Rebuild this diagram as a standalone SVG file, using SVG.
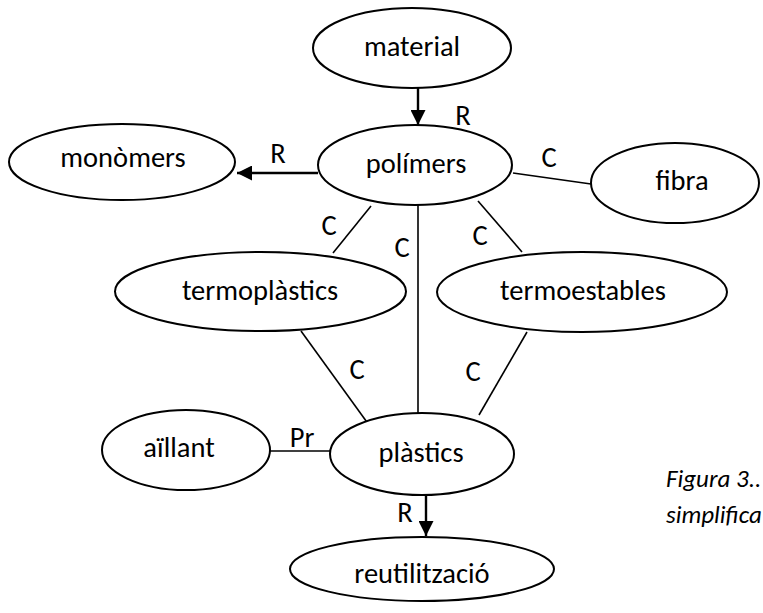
<svg xmlns="http://www.w3.org/2000/svg" width="763" height="613" viewBox="0 0 763 613">
  <style>
    .node ellipse { fill: #ffffff; stroke: #000000; stroke-width: 2; }
    .node text, .lbl { font-family: Carlito, Lato, "Liberation Sans", sans-serif; font-size: 28.5px; fill: #000000; text-anchor: middle; }
    .edge { stroke: #000000; stroke-width: 1.6; fill: none; }
    .arrow { stroke: #000000; stroke-width: 2.4; fill: none; marker-end: url(#head); }
    .caption { font-family: Carlito, Lato, "Liberation Sans", sans-serif; font-size: 25px; font-style: italic; fill: #000000; }
  </style>
  <defs>
    <marker id="head" viewBox="0 0 10 10" refX="10" refY="5" markerUnits="userSpaceOnUse" markerWidth="15" markerHeight="15" orient="auto">
      <path d="M0,0 L10,5 L0,10 Z" fill="#000000"/>
    </marker>
  </defs>
  <rect width="763" height="613" fill="#ffffff"/>

  <!-- connectors -->
  <g id="connectors">
    <line class="arrow" x1="418" y1="88" x2="418" y2="125"/>
    <line class="arrow" x1="318" y1="173" x2="237" y2="173"/>
    <line class="edge" x1="513" y1="173" x2="591" y2="184"/>
    <line class="edge" x1="371" y1="206" x2="333" y2="253"/>
    <line class="edge" x1="478" y1="201" x2="522" y2="252"/>
    <line class="edge" x1="418" y1="205" x2="418" y2="414"/>
    <line class="edge" x1="301" y1="331" x2="369" y2="425"/>
    <line class="edge" x1="527" y1="332" x2="479" y2="415"/>
    <line class="edge" x1="270" y1="451" x2="330" y2="451"/>
    <line class="arrow" x1="426" y1="495" x2="426" y2="536"/>
    <text class="lbl" x="463" y="125">R</text>
    <text class="lbl" x="278" y="163">R</text>
    <text class="lbl" x="549" y="167">C</text>
    <text class="lbl" x="329" y="235">C</text>
    <text class="lbl" x="402" y="257">C</text>
    <text class="lbl" x="480" y="245">C</text>
    <text class="lbl" x="357" y="379">C</text>
    <text class="lbl" x="473" y="381">C</text>
    <text class="lbl" x="302" y="447">Pr</text>
    <text class="lbl" x="405" y="522">R</text>
  </g>

  <g id="material" class="node">
    <ellipse cx="412" cy="48" rx="99" ry="40"/>
    <text x="412" y="56">material</text>
  </g>
  <g id="polimers" class="node">
    <ellipse cx="415" cy="165" rx="97" ry="40"/>
    <text x="416" y="173">polímers</text>
  </g>
  <g id="monomers" class="node">
    <ellipse cx="122" cy="162" rx="113" ry="38"/>
    <text x="123" y="167">monòmers</text>
  </g>
  <g id="fibra" class="node">
    <ellipse cx="675" cy="183" rx="84" ry="40"/>
    <text x="682" y="190">fibra</text>
  </g>
  <g id="termoplastics" class="node">
    <ellipse cx="260.5" cy="291.5" rx="145.5" ry="39.5"/>
    <text x="260" y="300">termoplàstics</text>
  </g>
  <g id="termoestables" class="node">
    <ellipse cx="582" cy="292" rx="145" ry="40"/>
    <text x="583" y="300">termoestables</text>
  </g>
  <g id="aillant" class="node">
    <ellipse cx="186" cy="450" rx="84" ry="40"/>
    <text x="179" y="457">aïllant</text>
  </g>
  <g id="plastics" class="node">
    <ellipse cx="422" cy="454" rx="92" ry="41"/>
    <text x="421" y="462">plàstics</text>
  </g>
  <g id="reutilitzacio" class="node">
    <ellipse cx="422" cy="569" rx="132" ry="32"/>
    <text x="422" y="583">reutilització</text>
  </g>

  <text class="caption" x="666" y="487">Figura 3..</text>
  <text class="caption" x="666" y="523">simplifica</text>
</svg>
